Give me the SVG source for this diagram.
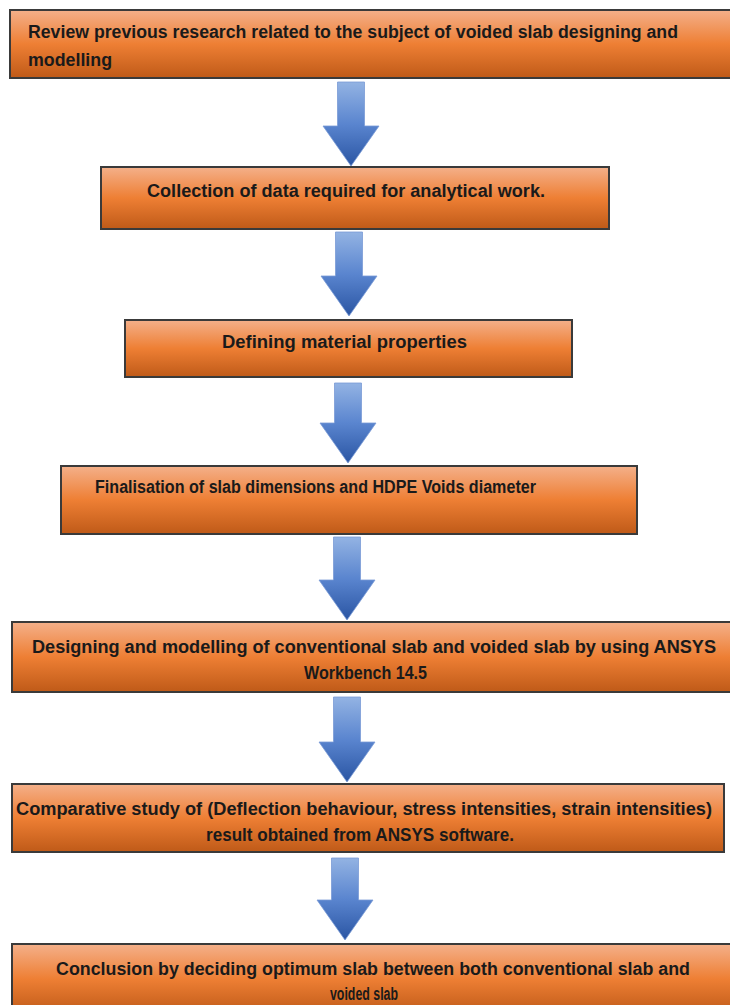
<svg xmlns="http://www.w3.org/2000/svg" width="730" height="1005" viewBox="0 0 730 1005">
<defs>
<linearGradient id="og" x1="0" y1="0" x2="0" y2="1">
<stop offset="0" stop-color="#f4b08a"/>
<stop offset="0.5" stop-color="#ee7f34"/>
<stop offset="1" stop-color="#bf5a18"/>
</linearGradient>
<linearGradient id="bg" x1="0" y1="0" x2="0" y2="1">
<stop offset="0" stop-color="#93b3e3"/>
<stop offset="0.5" stop-color="#5a85cf"/>
<stop offset="1" stop-color="#2a55a3"/>
</linearGradient>
</defs>
<style>
.box{fill:url(#og);stroke:#3a3a3a;stroke-width:2}
.t{font-family:"Liberation Sans",Arial,sans-serif;font-weight:bold;font-size:18px;fill:#1a1a1a}
.arr{fill:url(#bg);stroke:#7a9ad6;stroke-width:0.8}
</style>
<rect width="730" height="1005" fill="#ffffff"/>
<g id="connectors">
<polygon class="arr" points="337.5,82 364.5,82 364.5,126 379,126 351,166 323,126 337.5,126"/>
<polygon class="arr" points="335.5,232 362.5,232 362.5,276 377,276 349,316 321,276 335.5,276"/>
<polygon class="arr" points="334.5,383 361.5,383 361.5,423 376,423 348,463 320,423 334.5,423"/>
<polygon class="arr" points="333.5,537 360.5,537 360.5,580 375,580 347,620 319,580 333.5,580"/>
<polygon class="arr" points="333.5,697 360.5,697 360.5,742 375,742 347,782 319,742 333.5,742"/>
<polygon class="arr" points="331.5,858 358.5,858 358.5,900 373,900 345,940 317,900 331.5,900"/>
</g>
<g id="n1">
<rect class="box" x="10" y="10" width="740" height="68"/>
<text class="t" x="28" y="38" textLength="650" lengthAdjust="spacingAndGlyphs">Review previous research related to the subject of voided slab designing and</text>
<text class="t" x="28" y="66" textLength="84" lengthAdjust="spacingAndGlyphs">modelling</text>
</g>
<g id="n2">
<rect class="box" x="101" y="167" width="508" height="62"/>
<text class="t" x="147" y="197" textLength="398" lengthAdjust="spacingAndGlyphs">Collection of data required for analytical work.</text>
</g>
<g id="n3">
<rect class="box" x="125" y="320" width="447" height="57"/>
<text class="t" x="222" y="348" textLength="245" lengthAdjust="spacingAndGlyphs">Defining material properties</text>
</g>
<g id="n4">
<rect class="box" x="61" y="466" width="576" height="68"/>
<text class="t" x="95" y="493" textLength="441" lengthAdjust="spacingAndGlyphs">Finalisation of slab dimensions and HDPE Voids diameter</text>
</g>
<g id="n5">
<rect class="box" x="12" y="622" width="740" height="70"/>
<text class="t" x="32" y="653" textLength="684" lengthAdjust="spacingAndGlyphs">Designing and modelling of conventional slab and voided slab by using ANSYS</text>
<text class="t" x="304" y="679" textLength="123" lengthAdjust="spacingAndGlyphs">Workbench 14.5</text>
</g>
<g id="n6">
<rect class="box" x="12" y="784" width="712" height="68"/>
<text class="t" x="16" y="815" textLength="696" lengthAdjust="spacingAndGlyphs">Comparative study of (Deflection behaviour, stress intensities, strain intensities)</text>
<text class="t" x="206" y="841" textLength="308" lengthAdjust="spacingAndGlyphs">result obtained from ANSYS software.</text>
</g>
<g id="n7">
<rect class="box" x="12" y="944" width="740" height="70"/>
<text class="t" x="56" y="975" textLength="634" lengthAdjust="spacingAndGlyphs">Conclusion by deciding optimum slab between both conventional slab and</text>
<text class="t" x="330" y="1000" textLength="68" lengthAdjust="spacingAndGlyphs">voided slab</text>
</g>
</svg>
